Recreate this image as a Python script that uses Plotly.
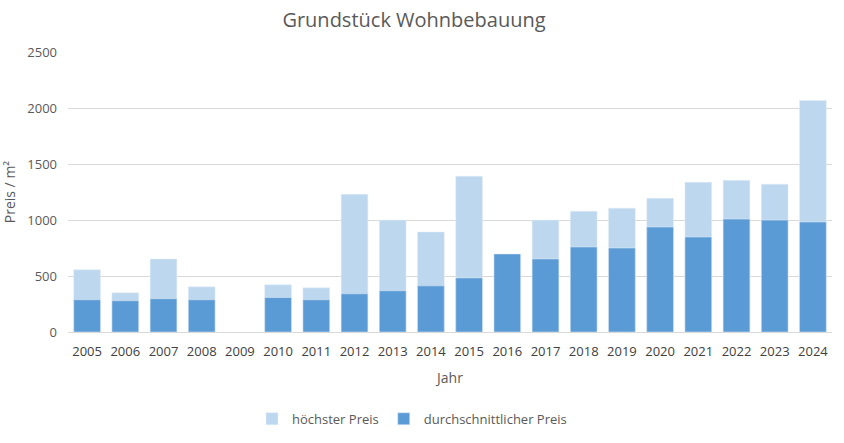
import plotly.graph_objects as go

years = [str(y) for y in range(2005, 2025)]
hoechster = [555, 350, 652, 403, None, 421, 394, 1231, 999, 893, 1391, None, 999, 1079, 1106, 1195, 1337, 1355, 1320, 2067]
durchschnitt = [288, 279, 297, 288, None, 308, 288, 341, 368, 412, 483, 697, 652, 759, 750, 937, 848, 1008, 999, 982]

FONT = "Open Sans, Noto Sans, sans-serif"
GRAY = "#595959"

fig = go.Figure()
fig.add_trace(go.Bar(x=years, y=hoechster, name="höchster Preis", marker_color="#BDD7EE"))
fig.add_trace(go.Bar(x=years, y=durchschnitt, name="durchschnittlicher Preis", marker_color="#5B9BD5"))

fig.update_layout(
    width=844, height=443,
    barmode="overlay", bargap=0.3,
    plot_bgcolor="white", paper_bgcolor="white",
    margin=dict(l=68, r=12, t=52, b=111, autoexpand=False),
    font=dict(family=FONT, color=GRAY, size=13),
    title=dict(text="Grundstück Wohnbebauung", x=414 / 844, xanchor="center", y=0.955, yanchor="middle",
               font=dict(size=20, color=GRAY, family=FONT)),
    xaxis=dict(type="category", showgrid=False, showline=False, ticks="", automargin=False,
               ticklabelstandoff=10,
               title=dict(text="Jahr", font=dict(size=14, color=GRAY), standoff=14),
               tickfont=dict(size=13, color="#404040")),
    yaxis=dict(range=[0, 2500], dtick=500, gridcolor="#D9D9D9", gridwidth=1, automargin=False,
               zeroline=True, zerolinecolor="#D9D9D9", zerolinewidth=1,
               ticklabelstandoff=10,
               title=dict(text="Preis / m²", font=dict(size=14, color=GRAY), standoff=8),
               tickfont=dict(size=13, color=GRAY)),
    legend=dict(orientation="h", x=(252 - 68) / 764, xanchor="left", y=-0.31, yanchor="middle",
                font=dict(size=13, color=GRAY), traceorder="normal", itemwidth=30),
)

fig.write_html("out.html")
